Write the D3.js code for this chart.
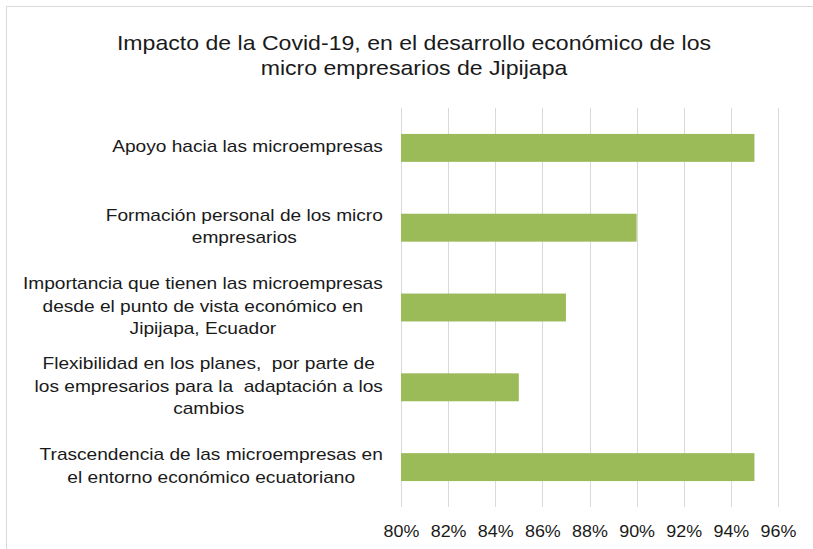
<!DOCTYPE html>
<html>
<head>
<meta charset="utf-8">
<script src="https://cdn.jsdelivr.net/npm/d3@7"></script>
<style>
  html, body { margin: 0; padding: 0; background: #fff; }
  svg text { font-family: "Liberation Sans", Arial, sans-serif; fill: #1a1a1a; white-space: pre; }
</style>
</head>
<body>
<svg id="chart" width="813" height="549"></svg>
<script>
const titleLines = ["Impacto de la Covid-19, en el desarrollo económico de los", "micro empresarios de Jipijapa"];
const categories = [
  "Apoyo hacia las microempresas",
  "Formación personal de los micro\nempresarios",
  "Importancia que tienen las microempresas\ndesde el punto de vista económico en\nJipijapa, Ecuador",
  "Flexibilidad en los planes,  por parte de\nlos empresarios para la  adaptación a los\ncambios",
  "Trascendencia de las microempresas en\nel entorno económico ecuatoriano"
];
const values = [0.95, 0.90, 0.87, 0.85, 0.95];
const tickValues = [0.80, 0.82, 0.84, 0.86, 0.88, 0.90, 0.92, 0.94, 0.96];

const svg = d3.select("#chart");
const W = 813, H = 549;
const margin = { left: 401, right: 35, top: 108, bottom: 42 };
const plotW = W - margin.left - margin.right;
const plotH = H - margin.top - margin.bottom;

// stretched text helper (reference glyphs are wider than Liberation Sans)
function stretchText(sel, x, y, sx) {
  return sel.attr("x", 0).attr("y", 0).attr("transform", `translate(${x},${y}) scale(${sx},1)`);
}

// chart border
svg.append("rect").attr("x", 6.5).attr("y", 6.5).attr("width", 820).attr("height", 560)
  .attr("fill", "#fff").attr("stroke", "#d9d9d9").attr("stroke-width", 1);

// title
const titleSX = 1.155;
titleLines.forEach((t, i) => {
  stretchText(svg.append("text").attr("text-anchor", "middle").style("font-size", "20px").text(t),
    414, 49.5 + i * 25, titleSX);
});

const x = d3.scaleLinear().domain([0.80, 0.96]).range([margin.left, margin.left + plotW]);
const y = d3.scaleBand().domain(categories).range([margin.top, margin.top + plotH]).paddingInner(0.65).paddingOuter(0.325);

// gridlines
svg.append("g").selectAll("line").data(tickValues).join("line")
  .attr("x1", d => Math.round(x(d)) + 0.5).attr("x2", d => Math.round(x(d)) + 0.5)
  .attr("y1", margin.top).attr("y2", margin.top + plotH)
  .attr("stroke", "#d9d9d9").attr("stroke-width", 1);

// bars
svg.append("g").selectAll("rect").data(values).join("rect")
  .attr("x", x(0.80))
  .attr("y", (d, i) => y(categories[i]))
  .attr("width", d => x(d) - x(0.80))
  .attr("height", y.bandwidth())
  .attr("fill", "#9bbb59");

// x axis labels
const tickSX = 1.12;
const xAxis = d3.axisBottom(x).tickValues(tickValues).tickFormat(d3.format(".0%")).tickSize(0).tickPadding(0);
const gx = svg.append("g").attr("transform", `translate(0,${margin.top + plotH})`).call(xAxis);
gx.select(".domain").remove();
gx.selectAll("text").attr("dy", null).style("font-size", "16px")
  .style("font-family", "Liberation Sans, Arial, sans-serif").attr("fill", "#1a1a1a")
  .attr("transform", `translate(0,29.5) scale(${tickSX},1)`).attr("y", 0);

// category labels (lines centered, block right-aligned)
const labelSX = 1.195;
const labelRight = 383;
const lineH = 22.5;
const lg = svg.append("g");
categories.forEach((c, i) => {
  const lines = c.split("\n");
  const cy = y(c) + y.bandwidth() / 2;
  const g = lg.append("g");
  const texts = lines.map((ln, j) => g.append("text")
    .attr("dy", "0.28em")
    .attr("text-anchor", "middle")
    .style("font-size", "16px")
    .text(ln));
  const maxW = d3.max(texts, t => t.node().getComputedTextLength()) * labelSX;
  texts.forEach((t, j) => stretchText(t, labelRight - maxW / 2, cy + (j - (lines.length - 1) / 2) * lineH, labelSX));
});
</script>
</body>
</html>
